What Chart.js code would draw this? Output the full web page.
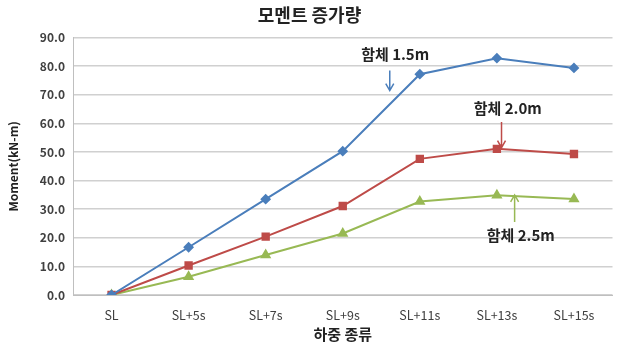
<!DOCTYPE html>
<html>
<head>
<meta charset="utf-8">
<script src="https://cdn.jsdelivr.net/npm/chart.js@4/dist/chart.umd.min.js"></script>
<style>
  html, body { margin: 0; padding: 0; background: #fff; }
  #wrap { width: 619px; height: 351px; }
</style>
</head>
<body>
<div id="wrap"><canvas id="grafico"></canvas></div>
<script>
// datos
const categorias = ['SL', 'SL+5s', 'SL+7s', 'SL+9s', 'SL+11s', 'SL+13s', 'SL+15s'];
const hamche15 = [0, 16.7, 33.5, 50.3, 77.2, 82.8, 79.4];
const hamche20 = [0, 10.3, 20.4, 31.1, 47.6, 51.1, 49.3];
const hamche25 = [0, 6.4, 14.0, 21.5, 32.7, 34.9, 33.6];
const nombres = ['함체 1.5m', '함체 2.0m', '함체 2.5m'];
const colores = ['#4A7EBB', '#BE4B48', '#98B954'];

// etiquetas con flecha (en unidades de datos)
const notas = [
  { txt: nombres[0], x: 3.68, yTxt: 84.2, x0: 3.61, y0: 78.5, y1: 71.5, color: colores[0] },
  { txt: nombres[1], x: 5.14, yTxt: 65.4, x0: 5.06, y0: 60.5, y1: 51.5, color: colores[1] },
  { txt: nombres[2], x: 5.31, yTxt: 21.0, x0: 5.23, y0: 25.5, y1: 35.0, color: colores[2] }
];

const FUENTE = "'Noto Sans CJK KR', 'Noto Sans', sans-serif";

const notasPlugin = {
  id: 'notas',
  afterDatasetsDraw(chart) {
    const { ctx, scales: { x, y } } = chart;
    ctx.save();
    notas.forEach(n => {
      ctx.font = 'bold 15px ' + FUENTE;
      ctx.fillStyle = '#222';
      ctx.textAlign = 'center';
      ctx.textBaseline = 'middle';
      ctx.fillText(n.txt, x.getPixelForValue(n.x), y.getPixelForValue(n.yTxt));
      const ax = x.getPixelForValue(n.x0);
      const ya = y.getPixelForValue(n.y0), yb = y.getPixelForValue(n.y1);
      const dir = yb > ya ? 1 : -1;
      ctx.strokeStyle = n.color;
      ctx.lineWidth = 1.5;
      ctx.beginPath();
      ctx.moveTo(ax, ya);
      ctx.lineTo(ax, yb);
      ctx.moveTo(ax - 4, yb - dir * 7);
      ctx.lineTo(ax, yb);
      ctx.lineTo(ax + 4, yb - dir * 7);
      ctx.stroke();
    });
    ctx.restore();
  }
};

const estilos = ['rectRot', 'rect', 'triangle'];
const radios = [4, 4.5, 4.5];
const series = [hamche15, hamche20, hamche25];

new Chart(document.getElementById('grafico'), {
  type: 'line',
  data: {
    labels: categorias,
    datasets: series.map((d, i) => ({
      label: nombres[i],
      data: d,
      borderColor: colores[i],
      backgroundColor: colores[i],
      borderWidth: 2,
      pointStyle: estilos[i],
      pointRadius: radios[i],
      tension: 0
    }))
  },
  options: {
    responsive: true,
    maintainAspectRatio: false,
    animation: false,
    layout: { padding: { left: 4, right: 4, top: 2, bottom: 4 } },
    plugins: {
      legend: { display: false },
      tooltip: { enabled: false },
      title: {
        display: true,
        text: '모멘트 증가량',
        color: '#222',
        font: { family: FUENTE, size: 18, weight: 'bold' },
        padding: { top: 2, bottom: 12 }
      }
    },
    scales: {
      x: {
        offset: true,
        grid: { display: false, drawTicks: false },
        border: { color: '#bfbfbf' },
        ticks: { color: '#404040', font: { family: FUENTE, size: 12.5 }, padding: 13 },
        title: { display: true, text: '하중 종류', color: '#222', font: { family: FUENTE, size: 15, weight: 'bold' }, padding: { top: 2 } },
        afterFit: s => { s.height = 52; }
      },
      y: {
        min: 0, max: 90,
        ticks: {
          stepSize: 10, color: '#404040', padding: 8,
          font: { family: FUENTE, size: 12, weight: 'bold' },
          callback: v => Number(v).toFixed(1)
        },
        grid: { color: '#d0d0d0', lineWidth: 1.5, drawTicks: false },
        border: { color: '#bfbfbf' },
        title: { display: true, text: 'Moment(kN-m)', color: '#222', font: { family: FUENTE, size: 12, weight: 'bold' }, padding: 2 },
        afterFit: s => { s.width = 69; }
      }
    }
  },
  plugins: [notasPlugin]
});
</script>
</body>
</html>
